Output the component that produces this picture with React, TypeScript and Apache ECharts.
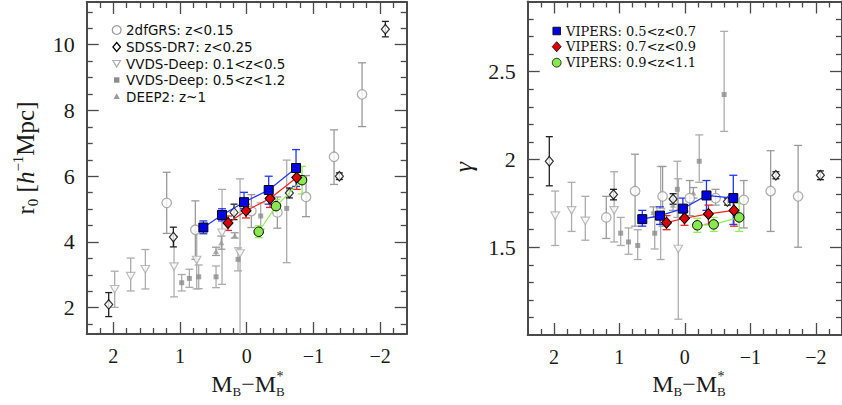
import React, { useEffect, useRef } from 'react';
import * as echarts from 'echarts';

// [M_B - M_B*, value, errLow, errHigh]
type Pt = [number, number, number, number];

const xMajor = [2, 1, 0, -1, -2];
const r0Major = [2, 4, 6, 8, 10];
const gammaMajor = [1.5, 2, 2.5];

const leftLegend = ['2dfGRS: z<0.15', 'SDSS-DR7: z<0.25', 'VVDS-Deep: 0.1<z<0.5', 'VVDS-Deep: 0.5<z<1.2', 'DEEP2: z~1'];
const rightLegend = ['VIPERS: 0.5<z<0.7', 'VIPERS: 0.7<z<0.9', 'VIPERS: 0.9<z<1.1'];

// ---------- r0 panel ----------
const r0_2dF: Pt[] = [
  [1.2, 5.19, 0.93, 0.93], [0.77, 4.37, 0.9, 0.88], [-0.07, 4.94, 0.5, 0.5], [-0.46, 4.9, 0.48, 0.47],
  [-0.89, 5.37, 0.6, 0.65], [-1.31, 6.59, 0.84, 0.82], [-1.73, 8.49, 0.98, 0.96],
];
const r0_SDSS: Pt[] = [
  [2.07, 2.1, 0.37, 0.36], [1.1, 4.15, 0.3, 0.3], [0.19, 4.9, 0.22, 0.25], [-0.64, 5.49, 0.15, 0.15],
  [-1.39, 6.0, 0.1, 0.1], [-2.08, 10.47, 0.23, 0.24],
];
const r0_VVDSlow: Pt[] = [
  [1.98, 2.56, 0.55, 0.55], [1.74, 2.96, 0.45, 0.55], [1.52, 3.17, 0.6, 0.6], [1.09, 3.25, 0.92, 0.92],
  [0.75, 3.45, 0.88, 0.88], [0.37, 4.28, 1.57, 1.32], [0.1, 3.65, 3.0, 2.27],
];
const r0_VVDShigh: Pt[] = [
  [0.975, 2.76, 0.25, 0.25], [0.86, 2.89, 0.27, 0.28], [0.72, 2.94, 0.36, 0.36], [0.46, 2.94, 0.33, 0.33],
  [0.13, 3.47, 0.35, 0.35], [-0.21, 4.79, 0.4, 0.4], [-0.6, 5.02, 1.65, 1.47],
];
const r0_DEEP2: Pt[] = [[0.46, 3.72, 0.13, 0.12], [0.38, 3.98, 0.2, 0.2], [0.18, 4.2, 0.08, 0.08]];
const r0_V1: Pt[] = [
  [0.65, 4.44, 0.19, 0.2], [0.37, 4.82, 0.18, 0.19], [0.04, 5.21, 0.2, 0.3], [-0.33, 5.58, 0.43, 0.42], [-0.74, 6.25, 0.56, 0.56],
];
const r0_V2: Pt[] = [[0.28, 4.58, 0.23, 0.21], [0.01, 4.95, 0.22, 0.2], [-0.35, 5.32, 0.27, 0.27], [-0.75, 5.96, 0.36, 0.36]];
const r0_V3: Pt[] = [[-0.18, 4.31, 0.18, 0.18], [-0.44, 5.09, 0.2, 0.2], [-0.83, 5.88, 0.42, 0.42]];

// ---------- gamma panel ----------
const g_2dF: Pt[] = [
  [1.2, 1.67, 0.12, 0.12], [0.76, 1.82, 0.2, 0.21], [0.34, 1.79, 0.17, 0.17], [-0.075, 1.78, 0.1, 0.1],
  [-0.47, 1.78, 0.04, 0.05], [-0.9, 1.77, 0.16, 0.11], [-1.31, 1.82, 0.23, 0.23], [-1.73, 1.79, 0.29, 0.29],
];
const g_SDSS: Pt[] = [
  [2.07, 1.99, 0.14, 0.14], [1.09, 1.8, 0.03, 0.03], [0.18, 1.775, 0.03, 0.03], [-0.65, 1.76, 0.02, 0.02],
  [-1.39, 1.91, 0.02, 0.02], [-2.07, 1.91, 0.025, 0.025],
];
const g_VVDSlow: Pt[] = [
  [1.98, 1.68, 0.17, 0.14], [1.73, 1.71, 0.12, 0.16], [1.52, 1.65, 0.11, 0.14], [1.08, 1.71, 0.18, 0.22],
  [0.37, 1.7, 0.27, 0.26], [0.1, 1.49, 0.4, 0.4],
];
const g_VVDShigh: Pt[] = [
  [0.98, 1.58, 0.07, 0.09], [0.86, 1.53, 0.07, 0.08], [0.72, 1.51, 0.08, 0.09], [0.46, 1.58, 0.09, 0.12],
  [0.115, 1.83, 0.16, 0.16], [-0.22, 1.99, 0.12, 0.15], [-0.6, 2.37, 0.21, 0.36],
];
const g_DEEP2: Pt[] = [[0.48, 1.7, 0.03, 0.03], [0.18, 1.74, 0.03, 0.03], [-0.13, 1.81, 0.03, 0.03]];
const g_V1: Pt[] = [
  [0.65, 1.66, 0.04, 0.05], [0.38, 1.68, 0.05, 0.05], [0.03, 1.72, 0.06, 0.06], [-0.33, 1.795, 0.085, 0.085], [-0.74, 1.78, 0.15, 0.13],
];
const g_V2: Pt[] = [[0.28, 1.64, 0.04, 0.04], [0.005, 1.665, 0.04, 0.04], [-0.36, 1.69, 0.06, 0.05], [-0.75, 1.71, 0.09, 0.09]];
const g_V3: Pt[] = [[-0.19, 1.625, 0.04, 0.04], [-0.44, 1.63, 0.04, 0.04], [-0.83, 1.67, 0.08, 0.08]];

const FRAME = '#4a4a4a';
const SERIF = '"Liberation Serif", "Times New Roman", serif';
const GRAY_2DF = '#9a9a9a';
const GRAY_VV1 = '#acacac';
const GRAY_VV2 = '#8c8c8c';
const GRAY_D2 = '#9a9a9a';
const BLUE = '#0000e0';
const BLUE_L = '#2236ff';
const RED = '#dd0000';
const RED_L = '#ff2020';
const GREEN = '#88e850';
const GREEN_L = '#8fee55';

const r10 = (v: number) => Math.round(v * 100) / 100;
function range(a: number, b: number, s: number, skip: number[]) {
  const out: number[] = [];
  for (let v = a; v <= b + 1e-9; v += s) {
    const w = r10(v);
    if (!skip.some((k) => Math.abs(k - w) < 1e-6)) out.push(w);
  }
  return out;
}
const xMinor = range(-2.2, 2.2, 0.2, xMajor);
const r0Minor = range(1.5, 11, 0.5, r0Major);
const gammaMinor = range(1.1, 2.8, 0.1, gammaMajor);

const fmt = (v: number) => (v < 0 ? '\u2212' + String(-v) : String(v));

function xAxes(gi: number) {
  const base = (pos: string, ticks: number[], len: number, label: boolean, line: boolean) => ({
    type: 'value', gridIndex: gi, position: pos, min: -2.4, max: 2.4, inverse: true,
    axisLine: { show: line, onZero: false, lineStyle: { color: FRAME, width: 2 } },
    axisTick: { show: true, inside: true, length: len, customValues: ticks, lineStyle: { color: FRAME, width: 1.3 } },
    axisLabel: label
      ? { show: true, customValues: ticks, formatter: fmt, margin: 12, fontFamily: SERIF, fontSize: 20, color: '#1a1a1a' }
      : { show: false },
    splitLine: { show: false },
  });
  return [
    base('bottom', xMajor, 12, true, true),
    base('bottom', xMinor, 6, false, false),
    base('top', xMajor, 12, false, true),
    base('top', xMinor, 6, false, false),
  ];
}
function yAxes(gi: number, min: number, max: number, major: number[], minor: number[]) {
  const base = (pos: string, ticks: number[], len: number, label: boolean, line: boolean) => ({
    type: 'value', gridIndex: gi, position: pos, min, max,
    axisLine: { show: line, onZero: false, lineStyle: { color: FRAME, width: 2 } },
    axisTick: { show: true, inside: true, length: len, customValues: ticks, lineStyle: { color: FRAME, width: 1.3 } },
    axisLabel: label
      ? { show: true, customValues: ticks, formatter: fmt, margin: 12, fontFamily: SERIF, fontSize: 22, color: '#1a1a1a' }
      : { show: false },
    splitLine: { show: false },
  });
  return [
    base('left', major, 12, true, true),
    base('left', minor, 6, false, false),
    base('right', major, 12, false, true),
    base('right', minor, 6, false, false),
  ];
}

function errSeries(gi: number, data: Pt[], color: string, width: number, cap: number) {
  return {
    type: 'custom', xAxisIndex: gi * 4, yAxisIndex: gi * 4, silent: true,
    data: data.map((p) => [p[0], p[1], p[2], p[3]]),
    renderItem: (params: any, api: any) => {
      const x = api.value(0), y = api.value(1), lo = api.value(2), hi = api.value(3);
      const cs = params.coordSys;
      const top = api.coord([x, y + hi]);
      const bot = api.coord([x, y - lo]);
      const ymin = cs.y, ymax = cs.y + cs.height;
      let t = top[1], b = bot[1];
      const capTop = t >= ymin, capBot = b <= ymax;
      t = Math.max(t, ymin); b = Math.min(b, ymax);
      const cx = top[0];
      const st = { stroke: color, lineWidth: width };
      const ch: any[] = [{ type: 'line', shape: { x1: cx, y1: t, x2: cx, y2: b }, style: st }];
      if (capTop) ch.push({ type: 'line', shape: { x1: cx - cap, y1: t, x2: cx + cap, y2: t }, style: st });
      if (capBot) ch.push({ type: 'line', shape: { x1: cx - cap, y1: b, x2: cx + cap, y2: b }, style: st });
      return { type: 'group', children: ch };
    },
  };
}
function markSeries(gi: number, data: Pt[], symbol: string, size: any, item: any, rotate = 0) {
  return {
    type: 'scatter', xAxisIndex: gi * 4, yAxisIndex: gi * 4, silent: true,
    data: data.map((p) => [p[0], p[1]]), symbol, symbolSize: size, symbolRotate: rotate, itemStyle: item,
  };
}
function viperSeries(gi: number, data: Pt[], symbol: string, size: any, fill: string, line: string) {
  return {
    type: 'line', xAxisIndex: gi * 4, yAxisIndex: gi * 4, silent: true,
    data: data.map((p) => [p[0], p[1]]), symbol, symbolSize: size, showSymbol: true,
    lineStyle: { color: line, width: 1.2 },
    itemStyle: { color: fill, borderColor: '#000', borderWidth: 1, opacity: 1 },
  };
}

function panelSeries(gi: number, d: { f2: Pt[]; sd: Pt[]; v1: Pt[]; v2: Pt[]; d2: Pt[]; b: Pt[]; r: Pt[]; g: Pt[] }) {
  return [
    errSeries(gi, d.v1, GRAY_VV1, 1.3, 4),
    errSeries(gi, d.v2, GRAY_VV1, 1.3, 4),
    errSeries(gi, d.d2, GRAY_D2, 1.3, 4),
    errSeries(gi, d.f2, GRAY_2DF, 1.3, 4),
    errSeries(gi, d.sd, '#222', 1.3, 3.5),
    markSeries(gi, d.v1, 'triangle', [8.5, 7.5], { color: '#fff', borderColor: GRAY_VV1, borderWidth: 1.2 }, 180),
    markSeries(gi, d.v2, 'rect', 5, { color: GRAY_VV2 }),
    markSeries(gi, d.d2, 'triangle', [6, 5.5], { color: GRAY_D2 }),
    markSeries(gi, d.f2, 'circle', 9.5, { color: '#fff', borderColor: GRAY_2DF, borderWidth: 1.3 }),
    markSeries(gi, d.sd, 'diamond', [8, 9.5], { color: '#fff', borderColor: '#000', borderWidth: 1.2 }),
    errSeries(gi, d.g, GREEN_L, 1.3, 4),
    errSeries(gi, d.r, RED_L, 1.3, 4),
    errSeries(gi, d.b, BLUE_L, 1.3, 4),
    viperSeries(gi, d.g, 'circle', 9.5, GREEN, GREEN_L),
    viperSeries(gi, d.r, 'diamond', [10, 11], RED, RED_L),
    viperSeries(gi, d.b, 'rect', 9, BLUE, BLUE_L),
  ];
}

function legendGraphics() {
  const els: any[] = [];
  const lx = 116.7;
  const ly = [30, 47, 63.5, 80, 96.5];
  els.push({ type: 'circle', shape: { cx: lx, cy: ly[0], r: 4.4 }, style: { fill: '#fff', stroke: GRAY_2DF, lineWidth: 1.3 } });
  els.push({ type: 'polygon', shape: { points: [[lx, ly[1] - 4.5], [lx + 3.8, ly[1]], [lx, ly[1] + 4.5], [lx - 3.8, ly[1]]] }, style: { fill: '#fff', stroke: '#000', lineWidth: 1.2 } });
  els.push({ type: 'polygon', shape: { points: [[lx - 3.8, ly[2] - 3], [lx + 3.8, ly[2] - 3], [lx, ly[2] + 3.5]] }, style: { fill: '#fff', stroke: GRAY_VV1, lineWidth: 1.2 } });
  els.push({ type: 'rect', shape: { x: lx - 2.7, y: ly[3] - 2.7, width: 5.4, height: 5.4 }, style: { fill: GRAY_VV2 } });
  els.push({ type: 'polygon', shape: { points: [[lx, ly[4] - 3.2], [lx + 3.2, ly[4] + 2.6], [lx - 3.2, ly[4] + 2.6]] }, style: { fill: GRAY_D2 } });
  leftLegend.forEach((t, i) => {
    els.push({ type: 'text', x: 126, y: ly[i], style: { text: t, fontFamily: '"DejaVu Sans", sans-serif', fontSize: 13.5, fill: '#111', align: 'left', verticalAlign: 'middle' } });
  });
  const rx = 556.7;
  const ry = [31, 46.7, 62.7];
  els.push({ type: 'rect', shape: { x: rx - 3.8, y: ry[0] - 3.8, width: 7.6, height: 7.6 }, style: { fill: BLUE, stroke: '#000', lineWidth: 0.8 } });
  els.push({ type: 'polygon', shape: { points: [[rx, ry[1] - 5], [rx + 4.5, ry[1]], [rx, ry[1] + 5], [rx - 4.5, ry[1]]] }, style: { fill: RED, stroke: '#000', lineWidth: 0.8 } });
  els.push({ type: 'circle', shape: { cx: rx, cy: ry[2], r: 4.4 }, style: { fill: GREEN, stroke: '#000', lineWidth: 0.8 } });
  rightLegend.forEach((t, i) => {
    els.push({ type: 'text', x: 566, y: ry[i], style: { text: t, fontFamily: '"DejaVu Serif", serif', fontSize: 13, fill: '#111', align: 'left', verticalAlign: 'middle' } });
  });
  return els;
}

function titleGraphics() {
  const els: any[] = [];
  const main = { fontFamily: SERIF, fontSize: 25, lineHeight: 30, verticalAlign: 'middle', fill: '#1a1a1a' };
  els.push({
    type: 'text', x: 25, y: 158, rotation: Math.PI / 2,
    style: {
      text: '{a|r}{s|0}{a| [}{i|h}{p|\u22121}{a|Mpc]}',
      align: 'center', verticalAlign: 'middle',
      rich: {
        a: main,
        i: { ...main, fontStyle: 'italic' },
        s: { fontFamily: SERIF, fontSize: 15, lineHeight: 13, verticalAlign: 'bottom', fill: '#1a1a1a' },
        p: { fontFamily: SERIF, fontSize: 15, lineHeight: 13, verticalAlign: 'top', fill: '#1a1a1a' },
      },
    },
  });
  els.push({
    type: 'text', x: 463, y: 167, rotation: Math.PI / 2,
    style: { text: '\u03b3', fontFamily: SERIF, fontSize: 26, fontStyle: 'italic', fill: '#1a1a1a', align: 'center', verticalAlign: 'middle' },
  });
  const mMain = { fontFamily: SERIF, fontSize: 24, lineHeight: 28, verticalAlign: 'middle', fill: '#1a1a1a' };
  const mSub = { fontFamily: SERIF, fontSize: 13, lineHeight: 12, verticalAlign: 'bottom', fill: '#1a1a1a' };
  [248, 689].forEach((cx) => {
    els.push({
      type: 'text', x: cx, y: 384,
      style: { text: '{a|M}{s|B}{a|\u2212M}{s|B}', align: 'center', verticalAlign: 'middle', rich: { a: mMain, s: mSub } },
    });
    els.push({
      type: 'text', x: cx + 32, y: 376,
      style: { text: '*', fontFamily: SERIF, fontSize: 14, fill: '#1a1a1a', align: 'center', verticalAlign: 'middle' },
    });
  });
  return els;
}

export default function App() {
  const ref = useRef<HTMLDivElement>(null);
  useEffect(() => {
    if (!ref.current) return;
    const chart = echarts.init(ref.current, undefined, { renderer: 'svg' });
    const option: any = {
      animation: false,
      backgroundColor: '#fff',
      grid: [
        { left: 86.7, top: 2, width: 320, height: 332 },
        { left: 527.7, top: 1.5, width: 320, height: 333.5 },
      ],
      xAxis: [...xAxes(0), ...xAxes(1)],
      yAxis: [...yAxes(0, 1.2, 11.3, r0Major, r0Minor), ...yAxes(1, 1.0, 2.9, gammaMajor, gammaMinor)],
      series: [
        ...panelSeries(0, { f2: r0_2dF, sd: r0_SDSS, v1: r0_VVDSlow, v2: r0_VVDShigh, d2: r0_DEEP2, b: r0_V1, r: r0_V2, g: r0_V3 }),
        ...panelSeries(1, { f2: g_2dF, sd: g_SDSS, v1: g_VVDSlow, v2: g_VVDShigh, d2: g_DEEP2, b: g_V1, r: g_V2, g: g_V3 }),
      ],
      graphic: [...legendGraphics(), ...titleGraphics()],
    };
    chart.setOption(option);
    return () => chart.dispose();
  }, []);
  return <div ref={ref} style={{ width: 842, height: 405, position: 'absolute', left: 0, top: 0 }} />;
}
